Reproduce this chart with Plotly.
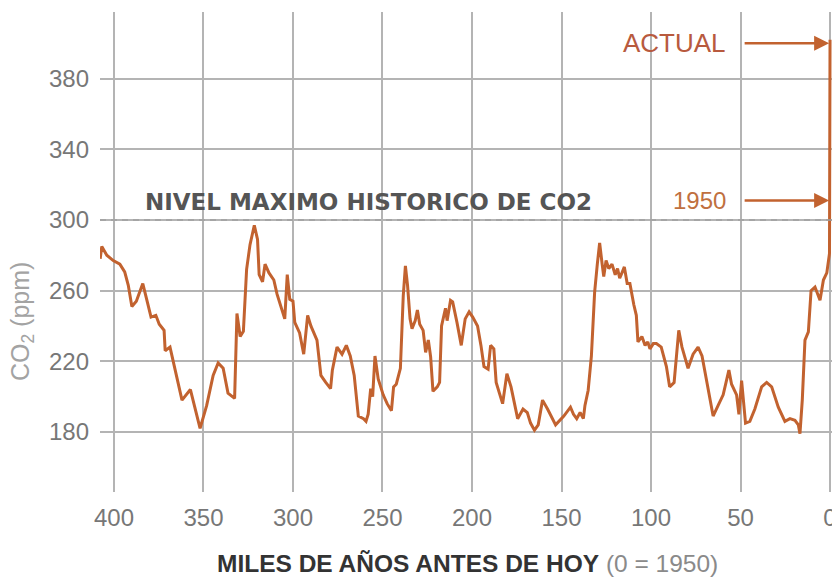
import plotly.graph_objects as go

# Thousands of years before present (0 = 1950) and CO2 concentration (ppm)
kyr = [407.7, 406.8, 404, 400.4, 396.7, 394, 392, 390, 387.5, 383.9, 381, 379.3, 376.6, 374.7, 372, 371.4,
       368.7, 365.6, 362, 357.3, 354.6, 351.9, 348.2, 344.6, 341.8, 339, 336.3, 332.6, 331.3, 329.5, 327.7,
       325.9, 324, 321.6, 319.8, 318.9, 317, 315.6, 313.4, 310.7, 308.9, 307, 305.7, 304.6, 303.2, 301.8, 300,
       299, 296.3, 294, 291.8, 290, 286.6, 284.4, 281.7, 279, 278, 275.4, 272.6, 270.2, 268, 265.8, 263.5,
       260.6, 259.2, 258, 256.6, 255.5, 254.2, 252.4, 249.6, 247.4, 245, 243.8, 242.3, 240, 238.4, 237.2, 236,
       234.6, 233.5, 231.7, 230.5, 229.2, 227.3, 225.9, 224.4, 223.1, 221.8, 219.4, 218.1, 217, 214.8, 213.9,
       212, 210.8, 208.4, 206, 203.8, 201.6, 199.6, 196.9, 195, 193.3, 191, 189.6, 187.8, 186.5, 182.9, 180.5,
       178.2, 174.5, 171.5, 169.1, 167.3, 165.1, 163, 160.6, 157.8, 153.3, 148.7, 145, 143.3, 141.5, 139.6,
       137.8, 136.9, 135.1, 133.3, 131.5, 130, 128.7, 127.3, 126.4, 125.1, 123.6, 121.8, 120, 118.7, 117.5, 116,
       114.9, 113.3, 111.8, 109.6, 108.2, 107.3, 105.1, 103.3, 101.8, 100.6, 98.7, 97, 94.3, 91.4, 89.6, 87.1,
       84.5, 82.7, 79.3, 76.5, 73.7, 71.5, 69, 65.3, 62.5, 59.7, 56.5, 55, 52.2, 50.9, 49.4, 47.2, 44.8, 42,
       38.2, 35.4, 32.6, 28.9, 25.2, 22.4, 19.6, 17.7, 16.8, 15.5, 14, 12.1, 10.6, 8.4, 5.6, 3.7, 1.8, 0.3, 0]
co2 = [278, 285, 280, 277, 275, 270.6, 263, 251, 254, 264, 252, 245, 246, 241, 237.5, 226,
       228, 214, 198, 204, 193, 182, 195, 212, 219, 216, 202, 199, 247, 234, 237,
       272, 286, 297, 289, 269, 265, 275, 270, 266, 258, 252, 248, 244, 269, 255, 254,
       242, 236, 224, 246, 240, 232, 212, 208, 204.5, 215, 228, 224, 229, 223, 212, 189,
       187.5, 186, 190, 204.5, 200, 223, 210, 201, 196, 192, 205.5, 207, 216, 257, 274, 263,
       244, 238.5, 243, 249, 241, 237.5, 225, 232, 222.5, 203, 205.5, 208, 240, 250, 243,
       254.5, 253.6, 242, 229, 244, 248, 245, 240, 229, 217, 215.5, 229, 227, 208, 196, 213,
       205.5, 187.5, 193, 191, 185, 181, 184, 198, 193, 184, 189, 194, 190, 187.5, 191,
       187.5, 195, 203.6, 223, 259, 275, 287, 275, 268, 277, 272.5, 275, 269, 272.5, 267, 270.6,
       273.4, 264, 264, 252, 246, 231, 234, 229, 231, 227, 230, 230, 228, 217, 205.5, 208,
       237.5, 228, 216, 224, 228, 223, 209, 189, 195, 201, 215, 207, 201, 190, 209, 185, 186, 193,
       205.5, 208, 205.5, 194, 186, 187.5, 186.6, 184, 179, 198, 232, 236.6, 260, 262, 254.5, 266, 270, 281, 402]

x_ticks = [400, 350, 300, 250, 200, 150, 100, 50, 0]
y_ticks = [180, 220, 260, 300, 340, 380]

max_level = 300
actual_level = 400
level_1950 = 311

LINE = "#c2622f"
GRID = "#b4b4b4"
FONT = "Liberation Sans, Arial, sans-serif"

fig = go.Figure()
fig.add_trace(go.Scatter(x=kyr, y=co2, mode="lines",
                         line=dict(color=LINE, width=3), hoverinfo="skip", showlegend=False))

fig.add_shape(type="line", xref="paper", x0=0, x1=1, yref="y", y0=max_level, y1=max_level,
              line=dict(color="#a0a0a0", width=1.5, dash="6px,5px"), layer="above")

annotations = [
    dict(text="NIVEL MAXIMO HISTORICO DE CO2", x=384, y=310, xref="x", yref="y",
         xanchor="left", yanchor="middle", showarrow=False,
         font=dict(family="DejaVu Sans, sans-serif", size=23, color="#555555", weight="bold")),
    dict(text="ACTUAL", x=57, y=actual_level, xref="x", yref="y", xanchor="right", yanchor="middle",
         showarrow=False, font=dict(family=FONT, size=26, color="#b85a3e")),
    dict(text="", x=0.5, y=actual_level, xref="x", yref="y", ax=-86, ay=0, axref="pixel", ayref="pixel",
         showarrow=True, arrowhead=2, arrowsize=1.2, arrowwidth=2.5, arrowcolor=LINE, standoff=0),
    dict(text="1950", x=57, y=level_1950, xref="x", yref="y", xanchor="right", yanchor="middle",
         showarrow=False, font=dict(family=FONT, size=24, color="#c07040")),
    dict(text="", x=0.5, y=level_1950, xref="x", yref="y", ax=-86, ay=0, axref="pixel", ayref="pixel",
         showarrow=True, arrowhead=2, arrowsize=1.2, arrowwidth=2.5, arrowcolor=LINE, standoff=0),
    dict(text="<b>MILES DE AÑOS ANTES DE HOY</b> <span style='color:#8a8a8a'>(0 = 1950)</span>",
         x=0.0, y=0, xref="paper", yref="paper", xanchor="center", yanchor="middle",
         xshift=367, yshift=-71,
         showarrow=False, font=dict(family=FONT, size=24.5, color="#333333")),
    dict(text="CO<sub>2</sub> (ppm)", x=0, y=0.354, xref="paper", yref="paper", xanchor="center",
         yanchor="middle", xshift=-78, textangle=-90, showarrow=False,
         font=dict(family=FONT, size=25, color="#a3a3a3")),
]

# The page body has an 8px default margin; the figure is sized to end at the visible edge.
fig.update_layout(
    width=824, height=569,
    margin=dict(l=92, r=0, t=4, b=85, autoexpand=False),
    paper_bgcolor="white", plot_bgcolor="white",
    annotations=annotations,
    xaxis=dict(range=[407.8, -1.1], tickvals=x_ticks, ticktext=[str(v) for v in x_ticks],
               showgrid=True, gridcolor=GRID, gridwidth=2, zeroline=False, showline=False,
               ticks="", tickfont=dict(family=FONT, size=24, color="#777777"),
               ticklabelstandoff=9, ticklabeloverflow="allow", automargin=False, fixedrange=True),
    yaxis=dict(range=[146, 417.7], tickvals=y_ticks, ticktext=[str(v) for v in y_ticks],
               showgrid=True, gridcolor=GRID, gridwidth=2, zeroline=False, showline=False,
               ticks="", tickfont=dict(family=FONT, size=24, color="#777777"),
               ticklabelstandoff=10, automargin=False, fixedrange=True),
)

fig.write_html("out.html")
